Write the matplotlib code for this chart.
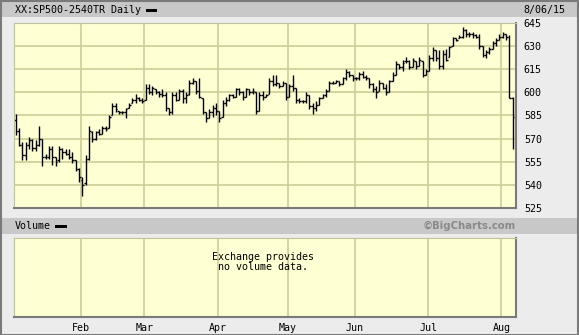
import matplotlib
matplotlib.use("Agg")
import matplotlib.pyplot as plt
from matplotlib.patches import Rectangle

# daily bars, Jan 2 2015 .. Aug 6 2015 (trading days)
opens = [582, 575, 566, 559, 566, 569, 564, 566, 570, 558, 558, 563, 558, 556, 563, 561, 560, 558, 556, 550,
         543, 541, 557, 574, 570, 574, 573, 577, 577, 585, 591, 588, 587, 587, 590, 593, 595, 596, 595,
         595, 603, 600, 602, 600, 599, 598, 590, 587, 598, 595, 601, 596, 599, 606, 607, 601, 596, 587, 583, 587, 590,
         588, 584, 593, 595, 598, 597, 602, 600, 597, 602, 600, 600, 588, 598, 597, 599, 607, 605, 606, 604, 606,
         597, 604, 603, 595, 594, 594, 598, 591, 590, 592, 596, 598, 601, 606, 606, 607, 605, 609, 613, 611,
         609, 609, 612, 610, 609, 605, 602, 601, 606, 603, 600, 607, 611, 618, 616, 620, 620, 616, 620, 617, 620, 611,
         614, 622, 627, 622, 617, 625, 623, 630, 635, 635, 636, 640, 638, 638, 637, 636, 630, 624, 626, 628, 632, 634,
         636, 638, 636, 596]
highs = [586, 577, 568, 568, 571, 570, 569, 578, 570, 560, 565, 565, 558, 565, 564, 563, 563, 561, 556, 551,
         545, 559, 578, 575, 575, 576, 578, 578, 585, 593, 593, 588, 588, 590, 593, 596, 599, 597, 596,
         605, 605, 604, 602, 601, 602, 600, 590, 600, 600, 602, 602, 600, 608, 609, 607, 609, 596, 587, 589, 592, 593,
         588, 595, 597, 599, 599, 603, 603, 601, 603, 602, 603, 600, 600, 601, 599, 609, 611, 611, 606, 607, 606,
         605, 611, 603, 596, 595, 600, 598, 593, 594, 597, 599, 602, 607, 607, 608, 607, 610, 615, 614, 611,
         610, 613, 614, 611, 609, 606, 604, 608, 606, 605, 608, 613, 620, 618, 621, 623, 621, 622, 620, 623, 620, 615,
         624, 629, 627, 627, 627, 628, 630, 636, 635, 637, 642, 641, 639, 639, 638, 638, 630, 627, 629, 633, 635, 638,
         639, 638, 637, 597]
lows = [572, 565, 556, 556, 563, 562, 562, 565, 552, 557, 557, 553, 552, 555, 557, 559, 557, 554, 549, 542,
        533, 540, 556, 568, 569, 572, 573, 575, 577, 585, 587, 586, 586, 583, 590, 593, 593, 594, 593,
        595, 599, 598, 599, 597, 597, 588, 585, 586, 594, 595, 593, 593, 598, 605, 599, 596, 586, 581, 583, 584, 585,
        581, 584, 591, 594, 596, 597, 598, 595, 597, 598, 599, 586, 588, 595, 597, 599, 604, 604, 603, 604, 595,
        597, 601, 593, 593, 593, 593, 589, 586, 588, 592, 596, 597, 601, 605, 606, 604, 605, 608, 610, 607,
        608, 608, 609, 608, 603, 600, 596, 601, 602, 598, 600, 607, 611, 615, 614, 619, 615, 616, 615, 617, 610, 611,
        614, 620, 620, 615, 615, 620, 623, 630, 633, 635, 635, 636, 636, 635, 635, 628, 623, 622, 625, 628, 630, 634,
        635, 634, 596, 563]
closes = [575, 566, 559, 566, 569, 564, 566, 570, 558, 558, 563, 558, 555, 563, 561, 560, 558, 556, 550, 545,
          540, 557, 575, 570, 574, 573, 577, 576, 584, 591, 589, 587, 587, 589, 592, 595, 596, 595, 594,
          603, 600, 603, 600, 599, 598, 590, 587, 598, 595, 601, 596, 598, 606, 607, 601, 597, 587, 583, 587, 590, 588,
          583, 593, 595, 598, 597, 602, 600, 597, 602, 600, 601, 588, 598, 597, 598, 607, 605, 606, 604, 606, 597,
          604, 603, 595, 594, 594, 598, 591, 590, 592, 596, 598, 601, 606, 606, 607, 605, 609, 613, 611, 609,
          609, 612, 610, 609, 605, 602, 600, 606, 603, 600, 607, 611, 618, 616, 619, 620, 616, 621, 617, 621, 611, 614,
          622, 627, 622, 617, 625, 621, 629, 635, 634, 636, 640, 638, 638, 637, 636, 630, 624, 626, 628, 632, 634, 636,
          638, 636, 596, 584]

month_names = ["Feb", "Mar", "Apr", "May", "Jun", "Jul", "Aug"]
month_starts = [20, 39, 61, 82, 102, 124, 146]   # bar index of first trading day
price_ticks = [525, 540, 555, 570, 585, 600, 615, 630, 645]

W, H = 579, 335
BG = "#ECECEC"
BAND = "#C8C8C8"
PANEL = "#FFFFD4"
GRID = "#CDCD98"
mono = "DejaVu Sans Mono"

fig = plt.figure(figsize=(W / 100, H / 100), dpi=100, facecolor=BG)


def box(x0, y0, x1, y1):
    # pixel box (top-left origin) -> figure fraction rect
    return [x0 / W, 1 - y1 / H, (x1 - x0) / W, (y1 - y0) / H]


# header and volume bands
fig.patches.append(Rectangle((0, 1 - 17 / H), 1, 16 / H, transform=fig.transFigure,
                             facecolor=BAND, edgecolor="none"))
fig.patches.append(Rectangle((0, 1 - 233.5 / H), 1, 15.5 / H, transform=fig.transFigure,
                             facecolor=BAND, edgecolor="none"))
fig.patches.append(Rectangle((0.5 / W, 0.5 / H), 1 - 1.5 / W, 1 - 1.5 / H, transform=fig.transFigure,
                             facecolor="none", edgecolor="#7A7A7A", lw=1.5))

fig.text(15 / W, 1 - 10 / H, "XX:SP500-2540TR Daily", family=mono, size=7.2, va="center")
fig.patches.append(Rectangle((146 / W, 1 - 11.5 / H), 11 / W, 3 / H, transform=fig.transFigure,
                             facecolor="black"))
fig.text(523 / W, 1 - 9.5 / H, "8/06/15", family=mono, size=7.2, va="center")

fig.text(15 / W, 1 - 226 / H, "Volume", family=mono, size=7.2, va="center")
fig.patches.append(Rectangle((55 / W, 1 - 227.5 / H), 12 / W, 3 / H, transform=fig.transFigure,
                             facecolor="black"))
fig.text(516 / W, 1 - 226 / H, "\u00a9BigCharts.com", family="DejaVu Sans", weight="bold",
         size=7.3, color="#8A8A8A", ha="right", va="center")

# price panel
ax = fig.add_axes(box(14, 22.7, 515.5, 208))
ax.set_facecolor(PANEL)
idx = list(range(len(closes)))
ax.vlines(idx, lows, highs, color="black", lw=1.0)
ax.hlines(opens, [i - 0.5 for i in idx], idx, color="black", lw=1.0)
ax.hlines(closes, idx, [i + 0.5 for i in idx], color="black", lw=1.0)
ax.set_xlim(-0.5, 149.8)
ax.set_ylim(525, 645)
for p in price_ticks[1:-1]:
    ax.axhline(p, color=GRID, lw=1.2, zorder=0)
for m in month_starts:
    ax.axvline(m - 0.4, color=GRID, lw=1.2, zorder=0)
ax.set_xticks([])
ax.yaxis.tick_right()
ax.set_yticks(price_ticks)
ax.set_yticklabels([str(p) for p in price_ticks], family=mono, size=7.2)
ax.tick_params(axis="y", length=0, pad=6)
for s in ["top", "left"]:
    ax.spines[s].set_color("#C0C09A")
    ax.spines[s].set_linewidth(0.8)
for s in ["bottom", "right"]:
    ax.spines[s].set_color("#7A7A7A")
    ax.spines[s].set_linewidth(1.5)

# volume panel
vax = fig.add_axes(box(14, 238.3, 515.5, 317))
vax.set_facecolor(PANEL)
vax.set_xlim(-0.5, 149.8)
vax.set_ylim(0, 1)
for m in month_starts:
    vax.axvline(m - 0.4, color=GRID, lw=1.2, zorder=0)
vax.set_yticks([])
vax.set_xticks([m - 0.4 for m in month_starts])
vax.set_xticklabels(month_names, family=mono, size=7.2)
vax.tick_params(axis="x", length=0, pad=4)
for s in ["top", "left"]:
    vax.spines[s].set_color("#C0C09A")
    vax.spines[s].set_linewidth(0.8)
for s in ["bottom", "right"]:
    vax.spines[s].set_color("#7A7A7A")
    vax.spines[s].set_linewidth(1.5)
vax.text(0.497, 0.83, "Exchange provides\nno volume data.", transform=vax.transAxes,
         family=mono, size=7.2, ha="center", va="top", linespacing=1.0)

fig.savefig("out.png", dpi=100, facecolor=BG)
